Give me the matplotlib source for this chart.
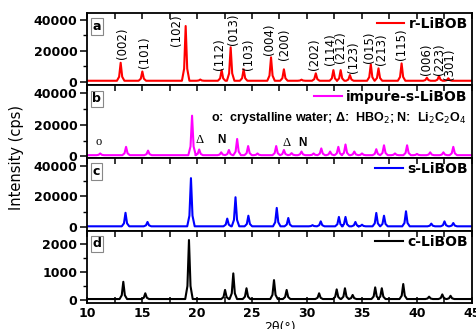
import matplotlib
matplotlib.use("Agg")
import matplotlib.pyplot as plt
from matplotlib.ticker import MultipleLocator

# peak positions (2theta) and heights
r_pos = [13.06, 15.03, 18.97, 20.3, 22.24, 23.06, 24.24, 26.73, 27.9, 29.5, 30.8, 32.4,
         33.06, 33.9, 35.8, 36.5, 38.6, 40.9, 42.0, 42.85]
r_int = [12400, 6800, 36100, 1600, 7700, 22400, 8200, 15900, 8200, 1500, 5600, 7700,
         7700, 4500, 11400, 8800, 12000, 2800, 3900, 2400]
r_base = 800

imp_pos = [11.2, 13.55, 15.55, 19.55, 20.2, 22.2, 22.9, 23.65, 24.65, 25.5, 27.2, 27.9,
           28.6, 29.5, 30.6, 31.3, 32.1, 32.85, 33.5, 34.3, 35.0, 36.3, 37.0, 38.0,
           39.1, 40.0, 41.2, 42.4, 43.3]
imp_int = [1800, 6000, 3600, 25800, 4300, 2500, 4000, 11000, 6500, 1800, 6500, 4000,
           2000, 3000, 1800, 5000, 3000, 6000, 7500, 3000, 1800, 4500, 7000, 1800,
           7000, 1500, 2500, 2500, 6000]
imp_base = 700

s_pos = [13.5, 15.5, 19.45, 22.75, 23.5, 24.67, 27.25, 28.3, 30.5, 31.25, 32.9, 33.5,
         34.4, 35.0, 36.3, 37.0, 39.0, 41.3, 42.5, 43.3]
s_int = [9300, 3300, 32000, 5500, 19500, 7400, 12500, 5900, 1200, 3700, 6600, 6600,
         3300, 1500, 9200, 7400, 10300, 2200, 3700, 2600]
s_base = 450

c_pos = [13.3, 15.3, 19.27, 22.55, 23.3, 24.5, 27.0, 28.15, 31.1, 32.7, 33.45, 34.15,
         36.2, 36.8, 38.75, 41.1, 42.3, 43.05]
c_int = [650, 240, 2140, 360, 950, 420, 710, 360, 240, 380, 420, 180,
         450, 420, 570, 120, 200, 150]
c_base = 35

# Miller indices for pattern a: label x, label bottom (cps)
hkl = ["(002)", "(101)", "(102)", "(112)", "(013)", "(103)", "(004)", "(200)", "(202)",
       "(114)", "(212)", "(123)", "(015)", "(213)", "(115)", "(006)", "(223)", "(301)"]
hkl_x = [13.24, 15.27, 18.15, 22.03, 23.3, 24.66, 26.6, 28.0, 30.66,
         32.1, 33.06, 34.27, 35.66, 36.8, 38.6, 40.9, 42.03, 43.0]
hkl_y = [14600, 8800, 23200, 7700, 23900, 7700, 17400, 14200, 7700,
         11000, 12000, 5600, 12000, 11000, 14200, 4500, 4500, 1300]


def profile(pos, inten, base):
    # polyline through baseline feet and peak tops
    xs = [10.0]
    ys = [base]
    for p, h in sorted(zip(pos, inten)):
        for dx, f in [(-0.34, 0.0), (-0.14, 0.22), (-0.05, 0.7), (0.0, 1.0),
                      (0.05, 0.7), (0.14, 0.22), (0.34, 0.0)]:
            xs.append(p + dx)
            ys.append(base + f * (h - base))
    xs.append(45.0)
    ys.append(base)
    return xs, ys


plt.rcParams['font.family'] = 'DejaVu Sans'

fig = plt.figure(figsize=(4.77, 3.29), dpi=100)
gs = fig.add_gridspec(4, 1, left=0.1824, right=0.9895, top=0.9605, bottom=0.079, hspace=0)
axes = [fig.add_subplot(gs[i]) for i in range(4)]

panels = [
    (r_pos, r_int, r_base, "#ff0000", "r-LiBOB", (-2260, 44500), 20000, 10000, "a"),
    (imp_pos, imp_int, imp_base, "#ff00ff", "impure-s-LiBOB", (-1100, 45000), 20000, 10000, "b"),
    (s_pos, s_int, s_base, "#0000ff", "s-LiBOB", (-2300, 45200), 20000, 10000, "c"),
    (c_pos, c_int, c_base, "#000000", "c-LiBOB", (-107, 2480), 1000, 500, "d"),
]

for i, (ax, (pos, inten, base, col, name, ylim, maj, mnr, letter)) in enumerate(zip(axes, panels)):
    xs, ys = profile(pos, inten, base)
    ax.plot(xs, ys, color=col, lw=1.5, label=name)
    ax.set_xlim(10, 45)
    ax.set_ylim(*ylim)
    ax.yaxis.set_major_locator(MultipleLocator(maj))
    ax.yaxis.set_minor_locator(MultipleLocator(mnr))
    ax.xaxis.set_major_locator(MultipleLocator(5))
    ax.xaxis.set_minor_locator(MultipleLocator(2.5))
    for s in ax.spines.values():
        s.set_linewidth(1.3)
    ax.tick_params(axis='y', which='major', direction='out', length=5, width=1.1,
                   labelsize=9, pad=2)
    ax.tick_params(axis='y', which='minor', direction='out', length=3, width=1.0)
    last = i == 3
    ax.tick_params(axis='x', which='both', direction='in', top=True, bottom=last,
                   labelbottom=last, length=4, width=1.1, labelsize=9, pad=3)
    for lab in ax.get_yticklabels() + ax.get_xticklabels():
        lab.set_fontweight('bold')
    ax.text(0.014, 0.905, letter, transform=ax.transAxes, fontsize=9, fontweight='bold',
            va='top', ha='left',
            bbox=dict(boxstyle='square,pad=0.15', fc='white', ec='#888888', lw=0.8))
    ax.legend(loc='upper right', frameon=False, handlelength=2.0, handletextpad=0.3,
              borderaxespad=0.1, borderpad=0.2, prop={'weight': 'bold', 'size': 10})

axa = axes[0]
for lab, x, y in zip(hkl, hkl_x, hkl_y):
    axa.text(x, y, lab, rotation=90, fontsize=8.5, ha='center', va='bottom')

axb = axes[1]
axb.text(21.3, 24100, "o:  crystalline water; \u0394:  HBO$_2$; N:  Li$_2$C$_2$O$_4$",
         fontsize=9, fontweight='bold', va='center', ha='left', family='Liberation Sans')
for sym, x, y in [("o", 11.1, 9000), ("\u0394", 20.2, 10400), ("N", 22.2, 10400),
                  ("\u0394", 28.1, 8500), ("N", 29.6, 8500)]:
    if sym == "N":
        axb.text(x, y, sym, fontsize=8.5, fontweight='bold', ha='center', va='center',
                 family='Liberation Sans')
    else:
        axb.text(x, y, sym, fontsize=9, ha='center', va='center', family='Liberation Serif')

fig.text(0.035, 0.52, "Intensity (cps)", rotation=90, fontsize=10.5, ha='center', va='center')
fig.text(0.586, 0.024, "2\u03b8(\u00b0)", fontsize=9, ha='center', va='top')

fig.savefig("out.png", dpi=100)
